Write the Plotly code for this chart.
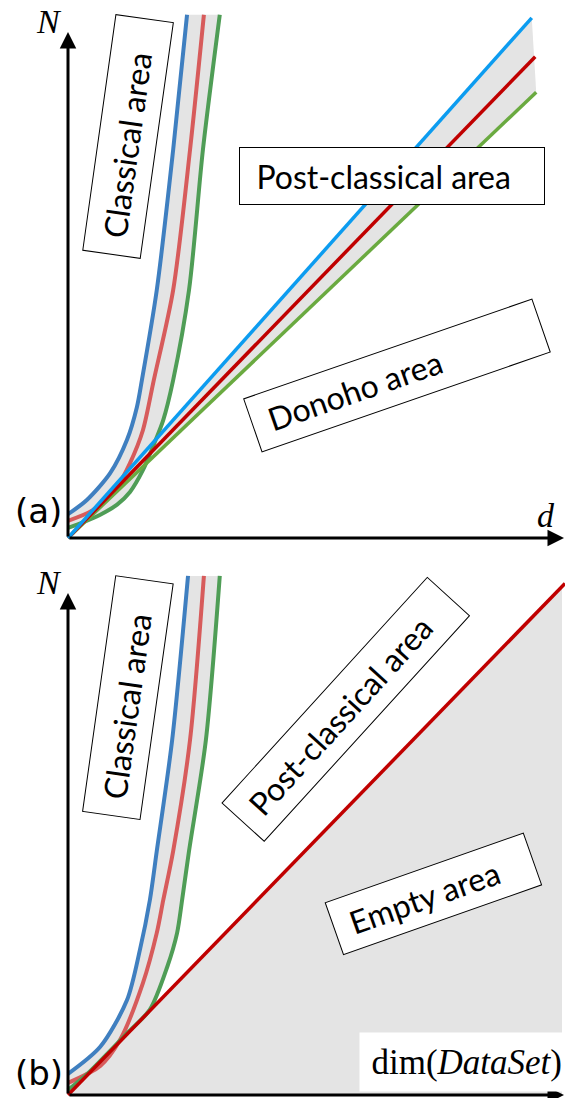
import plotly.graph_objects as go

# ---------------- Panel (a) data (d, N in arbitrary units) ----------------
a_blue_d = [0, 3.8, 8.5, 11.9, 13.9, 14.9, 17.9, 21.2, 24.0]
a_blue_N = [4.7, 7.5, 12.8, 19.4, 25.9, 31.2, 49.0, 76.7, 103.4]
a_red_d = [0, 5.0, 9.9, 12.5, 15.1, 17.3, 21.2, 24.6, 27.4]
a_red_N = [3.4, 5.5, 10.1, 14.8, 21.3, 31.2, 49.0, 76.7, 103.4]
a_green_d = [0, 3.0, 6.5, 9.9, 12.5, 15.1, 17.1, 19.2, 21.2, 24.4, 27.2, 30.6]
a_green_N = [2.0, 3.1, 4.6, 6.6, 9.1, 13.4, 18.0, 23.3, 31.2, 49.0, 76.7, 103.4]

a_lblue_d = [0, 93.5]
a_lblue_N = [0, 102.8]
a_lred_d = [0, 94.2]
a_lred_N = [0, 95.1]
a_lgreen_d = [0, 94.4]
a_lgreen_N = [0, 88.1]

# ---------------- Panel (b) data ----------------
b_blue_d = [0, 6.5, 11.9, 14.5, 16.5, 17.9, 21.0, 24.2]
b_blue_N = [4.2, 9.6, 18.9, 28.9, 38.8, 48.6, 70.7, 103.4]
b_red_d = [0, 6.5, 10.5, 15.1, 17.9, 19.2, 21.2, 24.6, 27.4]
b_red_N = [2.4, 5.8, 11.0, 22.3, 32.3, 38.8, 48.6, 70.7, 103.4]
b_green_d = [0, 4.0, 8.0, 12.0, 16.5, 20.0, 22.0, 23.0, 24.4, 27.8, 30.6]
b_green_N = [1.0, 4.3, 8.3, 12.4, 17.0, 25.5, 32.3, 38.8, 48.6, 70.7, 103.4]

b_line_d = [0, 100.2]
b_line_N = [0, 101.9]
b_empty_d = [0, 99.6, 99.6]
b_empty_N = [0, 101.3, 0]

# colours
C_BLUE, C_RED, C_GREEN = "#3f7fc0", "#d75b5b", "#4f9d56"
L_BLUE, L_RED, L_GREEN = "#0c9cf0", "#c00000", "#6aaa40"
GRAY = "#e4e4e4"

fig = go.Figure()

def add(x, y, xa, ya, color=None, width=4, fill=None, visible_line=True):
    fig.add_trace(go.Scatter(
        x=x, y=y, xaxis=xa, yaxis=ya, mode="lines",
        line=dict(color=color if visible_line else "rgba(0,0,0,0)",
                  width=width if visible_line else 0, shape="spline", smoothing=0.8),
        fill=fill, fillcolor=GRAY if fill else None,
        hoverinfo="skip", showlegend=False))

# Panel (a): gray bands
add(a_green_d, a_green_N, "x", "y", visible_line=False)
add(a_blue_d, a_blue_N, "x", "y", fill="tonexty", visible_line=False)
add(a_lgreen_d, a_lgreen_N, "x", "y", visible_line=False)
add(a_lblue_d, a_lblue_N, "x", "y", fill="tonexty", visible_line=False)
# curves
add(a_blue_d, a_blue_N, "x", "y", C_BLUE, 4)
add(a_red_d, a_red_N, "x", "y", C_RED, 4)
add(a_green_d, a_green_N, "x", "y", C_GREEN, 4)
# straight lines
add(a_lgreen_d, a_lgreen_N, "x", "y", L_GREEN, 3.5)
add(a_lred_d, a_lred_N, "x", "y", L_RED, 3.5)
add(a_lblue_d, a_lblue_N, "x", "y", L_BLUE, 3.5)

# Panel (b)
fig.add_trace(go.Scatter(x=b_empty_d, y=b_empty_N, xaxis="x2", yaxis="y2", mode="lines",
                         line=dict(width=0, color="rgba(0,0,0,0)"), fill="toself",
                         fillcolor=GRAY, hoverinfo="skip", showlegend=False))
add(b_green_d, b_green_N, "x2", "y2", visible_line=False)
add(b_blue_d, b_blue_N, "x2", "y2", fill="tonexty", visible_line=False)
add(b_blue_d, b_blue_N, "x2", "y2", C_BLUE, 4)
add(b_red_d, b_red_N, "x2", "y2", C_RED, 4)
add(b_green_d, b_green_N, "x2", "y2", C_GREEN, 4)
add(b_line_d, b_line_N, "x2", "y2", L_RED, 3.5)

ann = []

def arrow(xr, yr, x, y, ax, ay):
    ann.append(dict(xref=xr, yref=yr, axref=xr, ayref=yr, x=x, y=y, ax=ax, ay=ay,
                    text="", showarrow=True, arrowhead=2, arrowsize=1.1,
                    arrowwidth=3, arrowcolor="black", standoff=0, startstandoff=0))

arrow("x", "y", 0, 100, 0, 0)
arrow("x", "y", 100, 0, 0, 0)
arrow("x2", "y2", 0, 100, 0, 0)
arrow("x2", "y2", 100, 0, 0, 0)

SERIF = "Liberation Serif"
SANS = "Lato"
NB = "\u00a0\u00a0"

def txt(xr, yr, x, y, text, family, size):
    ann.append(dict(xref=xr, yref=yr, x=x, y=y, text=text, showarrow=False,
                    font=dict(family=family, size=size, color="black"),
                    xanchor="center", yanchor="middle"))

txt("x", "y", -3.8, 102.0, "<i>N</i>", SERIF, 34)
txt("x", "y", 96.4, 4.4, "<i>d</i>", SERIF, 34)
txt("x", "y", -5.9, 5.3, "(a)", "DejaVu Sans", 34)
txt("x2", "y2", -3.8, 102.0, "<i>N</i>", SERIF, 34)
txt("x2", "y2", -5.9, 4.4, "(b)", "DejaVu Sans", 34)

def box(xr, yr, x, y, text, L, H, angle):
    ann.append(dict(xref=xr, yref=yr, x=x, y=y, text=NB + text, showarrow=False,
                    font=dict(family=SANS, size=32, color="black"),
                    xanchor="center", yanchor="middle", align="left",
                    width=L - 2, height=H - 2, textangle=angle,
                    bgcolor="white", bordercolor="black", borderwidth=1, borderpad=0))

box("x", "y", 12.15, 79.3, "Classical area", 239, 59, -82)
box("x", "y", 65.3, 71.5, "Post-classical area", 306, 58, 0)
box("x", "y", 66.3, 32.1, "Donoho area", 306, 57, -19.1)
box("x2", "y2", 12.15, 79.1, "Classical area", 239, 59, -82)
box("x2", "y2", 56.1, 76.8, "Post-classical area", 306, 58, -47.7)
box("x2", "y2", 73.6, 40.0, "Empty area", 211, 56, -19.4)

ann.append(dict(xref="x2", yref="y2", x=79.2, y=6.6, text="dim(<i>DataSet</i>)",
                showarrow=False, font=dict(family=SERIF, size=35, color="black"),
                xanchor="center", yanchor="middle", align="right",
                width=202, height=58, bgcolor="white", borderpad=0))

XR = [-68 / 4.96, 497 / 4.96]
ax_common = dict(visible=False, showgrid=False, zeroline=False, fixedrange=True)
fig.update_layout(
    width=565, height=1098, autosize=False,
    margin=dict(l=0, r=0, t=0, b=0),
    paper_bgcolor="white", plot_bgcolor="white",
    xaxis=dict(domain=[0, 1], range=XR, anchor="y", **ax_common),
    yaxis=dict(domain=[1 - 550 / 1098, 1], range=[(538 - 550) / 5.06, 538 / 5.06], anchor="x", **ax_common),
    xaxis2=dict(domain=[0, 1], range=XR, anchor="y2", **ax_common),
    yaxis2=dict(domain=[0, 1 - 550 / 1098], range=[(1095 - 1098) / 5.02, (1095 - 550) / 5.02], anchor="x2", **ax_common),
    annotations=ann,
)

fig.write_html("out.html", config={"displayModeBar": False},
               post_script="document.body.style.margin='0';document.body.style.overflow='hidden';")
